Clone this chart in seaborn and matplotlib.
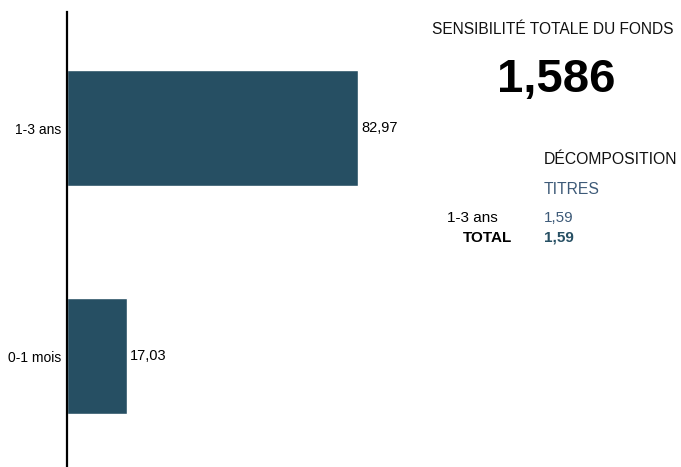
import matplotlib
matplotlib.use("Agg")
import matplotlib.pyplot as plt
import seaborn as sns
import pandas as pd

categories = ["1-3 ans", "0-1 mois"]
values = [82.97, 17.03]
value_labels = ["82,97", "17,03"]
total_sensitivity = "1,586"
decomp_rows = ["1-3 ans"]
decomp_values = ["1,59"]
decomp_total = "1,59"

sns.set_theme(style="white")
plt.rcParams['font.family'] = ['Liberation Sans', 'DejaVu Sans']

bar_color = "#264f63"
fig = plt.figure(figsize=(6.81, 4.67), dpi=100)
ax = fig.add_axes([67/681, 1/467, 351/681, 454/467])

df = pd.DataFrame({"cat": categories, "val": values})
sns.barplot(data=df, x="val", y="cat", color=bar_color, width=0.51, ax=ax, saturation=1)

ax.set_xlim(0, 100)
ax.set_ylim(1.482, -0.509)
ax.set_xlabel("")
ax.set_ylabel("")
ax.set_xticks([])
ax.tick_params(axis="y", length=0, pad=4, labelsize=10, labelcolor="#000000")
for s in ["top", "right", "bottom"]:
    ax.spines[s].set_visible(False)
ax.spines["left"].set_color("black")
ax.spines["left"].set_linewidth(1.6)

for i, (v, lab) in enumerate(zip(values, value_labels)):
    ax.text(v + 1.0, i, lab, va="center", ha="left", fontsize=10.5, color="black")

# Right panel
fs = 11
fig.text(432/681, 1 - 29/467, "SENSIBILITÉ TOTALE DU FONDS", fontsize=11.2,
         ha="left", va="center", color="#111111")
fig.text(556.5/681, 1 - 92/467, total_sensitivity, fontsize=34, fontweight="bold",
         ha="center", va="baseline", color="#000000")
fig.text(544/681, 1 - 159/467, "DÉCOMPOSITION", fontsize=11.3, ha="left", va="center",
         color="#111111")
fig.text(544/681, 1 - 190/467, "TITRES", fontsize=11.3, ha="left", va="center",
         color="#3d5a78")
for j, (r, v) in enumerate(zip(decomp_rows, decomp_values)):
    y = 218 + 20 * j
    fig.text(447/681, 1 - y/467, r, fontsize=fs, ha="left", va="center", color="#000000")
    fig.text(544/681, 1 - y/467, v, fontsize=fs, ha="left", va="center", color="#3d5a78")
fig.text(512/681, 1 - 238/467, "TOTAL", fontsize=fs, fontweight="bold", ha="right",
         va="center", color="#000000")
fig.text(544/681, 1 - 238/467, decomp_total, fontsize=fs, fontweight="bold", ha="left",
         va="center", color="#264f63")

fig.savefig("out.png", dpi=100)
